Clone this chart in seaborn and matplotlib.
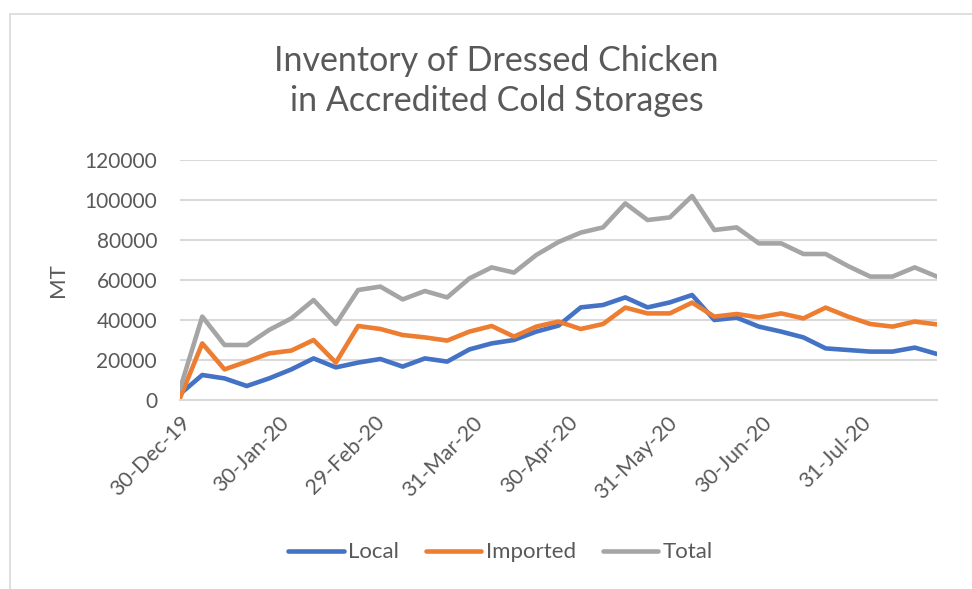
import pandas as pd
import seaborn as sns
import matplotlib.pyplot as plt
import matplotlib.dates as mdates
from matplotlib.lines import Line2D

# weekly readings, 30-Dec-19 .. 24-Aug-20 (MT)
fechas = pd.date_range("2019-12-30", periods=35, freq="7D")
local = [3000, 12500, 10800, 7000, 10800, 15300, 20800, 16300, 18700, 20500,
         16700, 20800, 19200, 25300, 28300, 30000, 34200, 37200, 46300, 47500,
         51300, 46300, 48800, 52500, 40000, 41200, 36700, 34200, 31300, 25800,
         25000, 24200, 24200, 26200, 23000]
imported = [1000, 28300, 15300, 19200, 23300, 24700, 30000, 18700, 37000, 35500,
            32500, 31300, 29700, 34200, 37000, 31700, 36700, 39200, 35500, 38000,
            46200, 43300, 43300, 48700, 41700, 43000, 41300, 43300, 40800, 46200,
            41700, 38000, 36700, 39200, 37800]
total = [5500, 41700, 27500, 27500, 35000, 40800, 50000, 38000, 55000, 56700,
         50300, 54500, 51300, 60800, 66300, 63700, 72500, 79000, 83700, 86300,
         98300, 90000, 91300, 102000, 85000, 86300, 78300, 78300, 73000, 73000,
         67000, 61700, 61700, 66300, 61700]

series = ["Local", "Imported", "Total"]
colores = ["#4472C4", "#ED7D31", "#A5A5A5"]
tick_fechas = ["2019-12-30", "2020-01-30", "2020-02-29", "2020-03-31",
               "2020-04-30", "2020-05-31", "2020-06-30", "2020-07-31"]
tick_labels = ["30-Dec-19", "30-Jan-20", "29-Feb-20", "31-Mar-20",
               "30-Apr-20", "31-May-20", "30-Jun-20", "31-Jul-20"]

df = pd.DataFrame({"fecha": list(fechas) * 3,
                   "MT": local + imported + total,
                   "serie": [s for s in series for _ in fechas]})

sns.set_style("white")
plt.rcParams["font.family"] = ["Lato", "DejaVu Sans"]
gris = "#595959"

fig = plt.figure(figsize=(9.72, 5.89), dpi=100)
ax = fig.add_axes([180 / 972, 1 - 400 / 589, 757 / 972, 240 / 589])

sns.lineplot(data=df, x="fecha", y="MT", hue="serie", hue_order=series,
             palette=colores, linewidth=3.3, ax=ax, legend=False)

ax.set_xlim(fechas[0], fechas[-1])
ax.set_ylim(0, 120000)
ax.set_yticks(range(0, 120001, 20000))
ax.yaxis.grid(True, color="#D9D9D9", linewidth=1.5)
ax.set_axisbelow(True)
for s in ["top", "right", "left"]:
    ax.spines[s].set_visible(False)
ax.spines["bottom"].set_color("#D9D9D9")
ax.spines["bottom"].set_linewidth(1.5)

ax.set_xticks(mdates.date2num(pd.to_datetime(tick_fechas)))
ax.set_xticklabels(tick_labels, rotation=45, ha="right", rotation_mode="anchor")
ax.tick_params(axis="x", colors="#D9D9D9", length=5, width=1.5, labelcolor=gris,
               labelsize=15.5, pad=4)
ax.tick_params(axis="y", length=0, labelcolor=gris, labelsize=15, pad=16.5)
ax.set_xlabel("")
ax.set_ylabel("MT", color=gris, fontsize=16, labelpad=12)

fig.text(0.511, 0.862, "Inventory of Dressed Chicken\nin Accredited Cold Storages",
         ha="center", va="center", fontsize=24.5, color=gris, linespacing=1.3)

handles = [Line2D([0], [0], color=c, linewidth=3.3, solid_capstyle="round") for c in colores]
fig.legend(handles, series, loc="center", bbox_to_anchor=(0.515, 0.062), ncol=3,
           frameon=False, fontsize=16, handlelength=2.5, handletextpad=0.2,
           columnspacing=1.2, labelcolor=gris)

# chart frame (left and top edges)
fig.add_artist(Line2D([10 / 972, 10 / 972], [0, 1 - 14 / 589], color="#D9D9D9",
                      linewidth=1.2, transform=fig.transFigure))
fig.add_artist(Line2D([10 / 972, 1], [1 - 14 / 589, 1 - 14 / 589], color="#D9D9D9",
                      linewidth=1.2, transform=fig.transFigure))

fig.savefig("out.png", dpi=100)
